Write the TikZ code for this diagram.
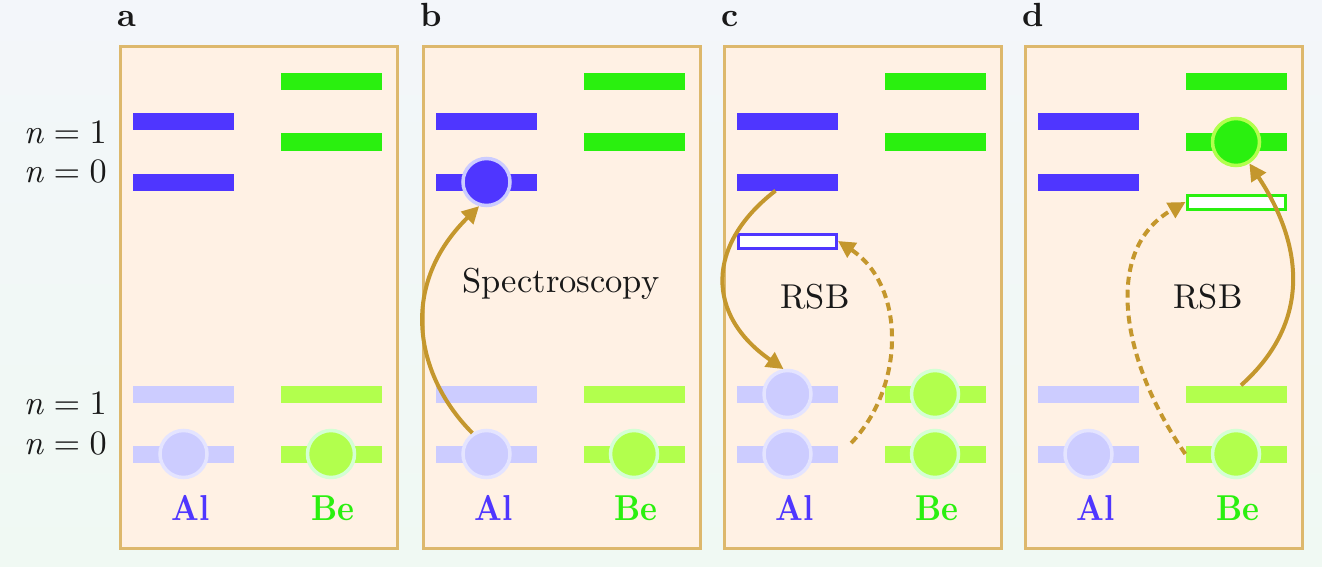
\documentclass[tikz,border=0pt]{standalone}
\usepackage{fontspec}
\usepackage{graphicx}
\usetikzlibrary{arrows.meta,calc}
\definecolor{alblue}{RGB}{79,54,255}
\definecolor{allight}{RGB}{204,204,255}
\definecolor{alring}{RGB}{228,228,255}
\definecolor{begreen}{RGB}{42,240,15}
\definecolor{belime}{RGB}{178,255,77}
\definecolor{bering}{RGB}{212,255,212}
\definecolor{panelc}{RGB}{255,241,228}
\definecolor{framec}{RGB}{221,184,108}
\definecolor{arrowc}{RGB}{196,151,45}
\definecolor{txt}{RGB}{25,25,25}
\definecolor{bgtop}{RGB}{243,246,250}
\definecolor{bgbot}{RGB}{240,249,243}
\newcommand{\nlab}[1]{\scalebox{3.42}{\textit{n}\hspace{0.28em}=\hspace{0.28em}#1}}
\newcommand{\bigtxt}[1]{\scalebox{3.45}{#1}}
\newcommand{\iontxt}[1]{\scalebox{3.2}[3.6]{\bfseries #1}}
\newcommand{\pantxt}[1]{\scalebox{3.35}{\bfseries #1}}
\tikzset{
  lab/.style={font=\fontsize{10}{12}\selectfont, text=txt, inner sep=0pt},
  plab/.style={font=\fontsize{10}{12}\selectfont, text=txt, inner sep=0pt},
  alname/.style={font=\fontsize{10}{12}\selectfont, text=alblue, inner sep=0pt},
  bename/.style={font=\fontsize{10}{12}\selectfont, text=begreen, inner sep=0pt},
  lvl/.style={rectangle, inner sep=0pt, minimum width=101pt, minimum height=17pt},
  alhi/.style={lvl, fill=alblue},
  behi/.style={lvl, fill=begreen},
  allo/.style={lvl, fill=allight},
  belo/.style={lvl, fill=belime},
  ion/.style={circle, inner sep=0pt, minimum size=47pt, line width=3.5pt},
  alg/.style={ion, fill=allight, draw=alring},
  beg/.style={ion, fill=belime, draw=bering},
  ale/.style={ion, fill=alblue, draw=allight},
  bee/.style={ion, fill=begreen, draw=belime},
  virt/.style={lvl, minimum width=98pt, minimum height=14pt, line width=3pt, fill=white},
  trans/.style={draw=arrowc, line width=4pt, -{Triangle[length=17pt,width=17pt]}},
  dtrans/.style={trans, dash pattern=on 8pt off 5pt},
  panel/.style={draw=framec, fill=panelc, line width=3pt},
}
\begin{document}
\begin{tikzpicture}[x=1pt,y=-1pt]
\useasboundingbox (0,0) rectangle (1322,567);
\shade[top color=bgtop,bottom color=bgbot] (0,0) rectangle (1322,567);

\node[lab, anchor=base east] (n1u) at (107,143) {\nlab{1}};
\node[lab, anchor=base east] (n0u) at (107,182) {\nlab{0}};
\node[lab, anchor=base east] (n1l) at (107,414) {\nlab{1}};
\node[lab, anchor=base east] (n0l) at (107,454) {\nlab{0}};

\foreach \p/\L in {a/120,b/423,c/724,d/1025}{
  \node[plab, anchor=base west] (\p-lab) at (\L-3,27) {\pantxt{\p}};
  \draw[panel] (\L,47) rectangle ++(277,501);
  \node[alname, anchor=base] (\p-al) at (\L+70.5,520) {\iontxt{Al}};
  \node[bename, anchor=base] (\p-be) at (\L+213,520) {\iontxt{Be}};
  \node[alhi] (\p-al1) at (\L+63.5,122) {};
  \node[alhi] (\p-al0) at (\L+63.5,182) {};
  \node[behi] (\p-be1) at (\L+211,82) {};
  \node[behi] (\p-be0) at (\L+211,142) {};
  \node[allo] (\p-gal1) at (\L+63.5,394) {};
  \node[allo] (\p-gal0) at (\L+63.5,454) {};
  \node[belo] (\p-gbe1) at (\L+211,394) {};
  \node[belo] (\p-gbe0) at (\L+211,454) {};
}

% panel a
\node[alg] (a-ia) at (a-gal0) {};
\node[beg] (a-ib) at (a-gbe0) {};

% panel b
\node[ale] (b-ea) at (b-al0) {};
\node[alg] (b-ia) at (b-gal0) {};
\node[beg] (b-ib) at (b-gbe0) {};
\node[lab, anchor=base] (b-t) at (561,292) {\bigtxt{Spectroscopy}};
\draw[trans] (b-ia.124) .. controls +(-55,-55) and +(-83,82) .. (b-ea.-107);

% panel c
\node[virt, draw=alblue] (c-v) at ($(c-al0)+(0,59)$) {};
\node[alg] (c-ia1) at (c-gal1) {};
\node[alg] (c-ia0) at (c-gal0) {};
\node[beg] (c-ib1) at (c-gbe1) {};
\node[beg] (c-ib0) at (c-gbe0) {};
\node[lab, anchor=base] (c-t) at (815,308) {\bigtxt{RSB}};
\draw[trans] ($(c-al0.south)+(-12,0)$) .. controls +(-70,54) and +(-78,-54) .. (c-ia1.99);
\draw[dtrans] ($(c-gal0.east)+(13,-11)$) .. controls +(55,-58) and +(67,44) .. (c-v.east);

% panel d
\node[virt, draw=begreen] (d-v) at ($(d-be0)+(0,60)$) {};
\node[bee] (d-eb) at (d-be0) {};
\node[alg] (d-ia) at (d-gal0) {};
\node[beg] (d-ib) at (d-gbe0) {};
\node[lab, anchor=base] (d-t) at (1208,308) {\bigtxt{RSB}};
\draw[trans] ($(d-gbe1.north)+(5,0)$) .. controls +(74,-66) and +(51,77) .. (d-eb.-58);
\draw[dtrans] (d-gbe0.west) .. controls +(-65,-94) and +(-83,48) .. (d-v.west);
\end{tikzpicture}
\end{document}
